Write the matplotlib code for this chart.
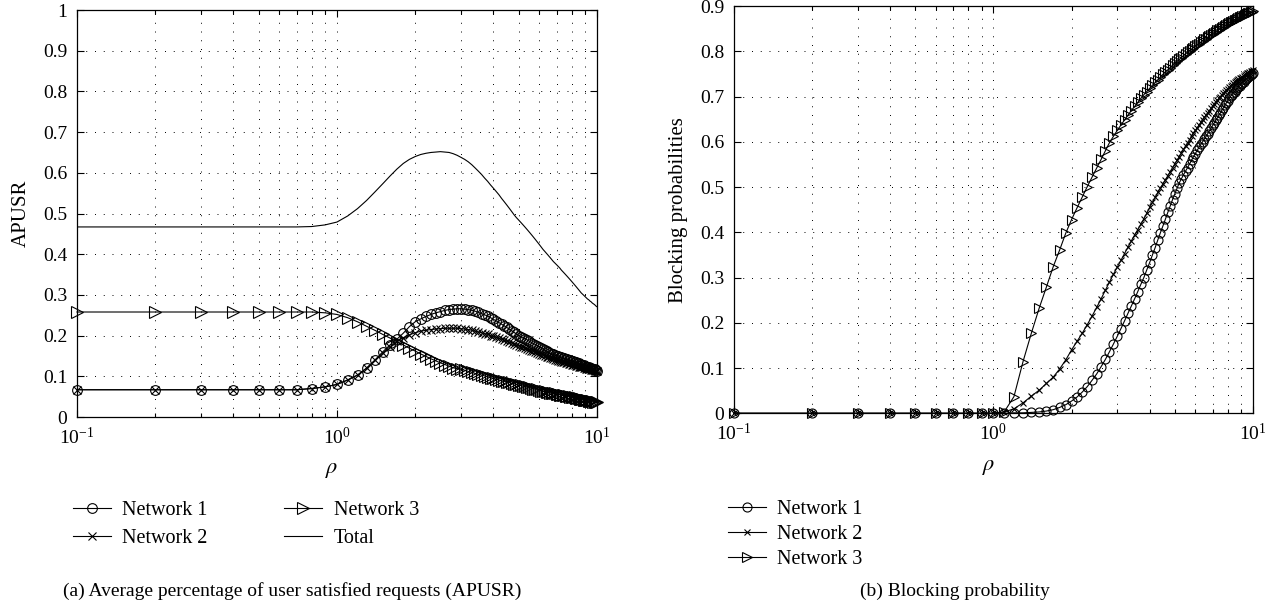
import matplotlib.pyplot as plt
from matplotlib.ticker import NullFormatter

plt.rcParams['font.family'] = ['Liberation Serif', 'DejaVu Serif']
plt.rcParams['mathtext.fontset'] = 'stix'

# load values rho = 0.1, 0.2, ..., 10
rho = [i / 10 for i in range(1, 101)]

# (a) APUSR
apusr_net1 = [0.067, 0.067, 0.067, 0.067, 0.067, 0.067, 0.067, 0.070, 0.074, 0.080,
              0.091, 0.103, 0.120, 0.140, 0.160, 0.177, 0.191, 0.206, 0.222, 0.234,
              0.241, 0.247, 0.252, 0.256, 0.259, 0.262, 0.264, 0.265, 0.266, 0.266,
              0.265, 0.264, 0.262, 0.260, 0.257, 0.254, 0.251, 0.248, 0.244, 0.240,
              0.236, 0.232, 0.228, 0.224, 0.220, 0.216, 0.212, 0.208, 0.204, 0.200,
              0.197, 0.194, 0.192, 0.189, 0.186, 0.183, 0.180, 0.178, 0.175, 0.172,
              0.170, 0.167, 0.164, 0.162, 0.159, 0.157, 0.155, 0.154, 0.152, 0.151,
              0.150, 0.148, 0.147, 0.146, 0.144, 0.143, 0.142, 0.140, 0.139, 0.138,
              0.137, 0.135, 0.134, 0.133, 0.132, 0.130, 0.129, 0.128, 0.127, 0.126,
              0.124, 0.123, 0.122, 0.121, 0.120, 0.119, 0.118, 0.117, 0.115, 0.114]

apusr_net2 = [0.067, 0.067, 0.067, 0.067, 0.067, 0.067, 0.067, 0.070, 0.074, 0.080,
              0.091, 0.103, 0.120, 0.139, 0.157, 0.173, 0.186, 0.195, 0.202, 0.207,
              0.211, 0.213, 0.215, 0.216, 0.217, 0.218, 0.218, 0.218, 0.218, 0.217,
              0.216, 0.215, 0.213, 0.211, 0.209, 0.207, 0.205, 0.203, 0.200, 0.198,
              0.196, 0.193, 0.191, 0.189, 0.186, 0.184, 0.182, 0.179, 0.177, 0.175,
              0.173, 0.171, 0.169, 0.167, 0.165, 0.163, 0.161, 0.159, 0.157, 0.155,
              0.153, 0.152, 0.150, 0.148, 0.147, 0.145, 0.144, 0.142, 0.141, 0.140,
              0.138, 0.137, 0.136, 0.135, 0.134, 0.133, 0.132, 0.131, 0.130, 0.129,
              0.128, 0.127, 0.126, 0.125, 0.124, 0.123, 0.122, 0.122, 0.121, 0.120,
              0.119, 0.118, 0.118, 0.117, 0.116, 0.115, 0.115, 0.114, 0.113, 0.112]

apusr_net3 = [0.258, 0.258, 0.258, 0.258, 0.258, 0.258, 0.258, 0.258, 0.256, 0.252,
              0.244, 0.234, 0.223, 0.213, 0.203, 0.194, 0.185, 0.177, 0.169, 0.162,
              0.155, 0.149, 0.143, 0.138, 0.133, 0.129, 0.125, 0.121, 0.119, 0.117,
              0.115, 0.112, 0.110, 0.107, 0.105, 0.103, 0.101, 0.099, 0.097, 0.095,
              0.093, 0.091, 0.089, 0.088, 0.086, 0.085, 0.083, 0.082, 0.080, 0.079,
              0.078, 0.076, 0.075, 0.074, 0.073, 0.071, 0.070, 0.069, 0.068, 0.066,
              0.065, 0.064, 0.063, 0.062, 0.061, 0.060, 0.059, 0.058, 0.058, 0.057,
              0.056, 0.055, 0.054, 0.054, 0.053, 0.052, 0.051, 0.051, 0.050, 0.049,
              0.048, 0.048, 0.047, 0.046, 0.046, 0.045, 0.044, 0.044, 0.043, 0.042,
              0.042, 0.041, 0.040, 0.040, 0.039, 0.039, 0.038, 0.037, 0.037, 0.036]

apusr_total = [0.467, 0.467, 0.467, 0.467, 0.467, 0.467, 0.467, 0.468, 0.472, 0.479,
               0.494, 0.512, 0.532, 0.553, 0.573, 0.592, 0.609, 0.623, 0.633, 0.640,
               0.645, 0.648, 0.650, 0.651, 0.652, 0.651, 0.650, 0.647, 0.643, 0.638,
               0.633, 0.627, 0.620, 0.612, 0.604, 0.596, 0.587, 0.579, 0.570, 0.562,
               0.554, 0.546, 0.537, 0.529, 0.521, 0.513, 0.505, 0.497, 0.490, 0.484,
               0.478, 0.472, 0.466, 0.460, 0.454, 0.448, 0.442, 0.436, 0.430, 0.424,
               0.418, 0.412, 0.407, 0.402, 0.397, 0.392, 0.387, 0.382, 0.378, 0.374,
               0.370, 0.366, 0.361, 0.357, 0.353, 0.349, 0.345, 0.341, 0.337, 0.333,
               0.329, 0.325, 0.321, 0.317, 0.313, 0.309, 0.305, 0.302, 0.299, 0.296,
               0.293, 0.290, 0.288, 0.285, 0.283, 0.280, 0.278, 0.276, 0.273, 0.271]

# (b) blocking probability
block_net1 = [0, 0, 0, 0, 0, 0, 0, 0, 0, 0,
              0.000, 0.001, 0.001, 0.002, 0.003, 0.005, 0.008, 0.013, 0.019, 0.027,
              0.036, 0.047, 0.059, 0.073, 0.087, 0.103, 0.119, 0.136, 0.153, 0.170,
              0.187, 0.204, 0.221, 0.237, 0.253, 0.269, 0.285, 0.300, 0.317, 0.333,
              0.350, 0.366, 0.383, 0.399, 0.414, 0.429, 0.444, 0.458, 0.472, 0.485,
              0.497, 0.509, 0.518, 0.527, 0.535, 0.543, 0.551, 0.559, 0.567, 0.574,
              0.581, 0.588, 0.594, 0.600, 0.606, 0.612, 0.618, 0.624, 0.630, 0.636,
              0.642, 0.648, 0.653, 0.659, 0.664, 0.670, 0.675, 0.681, 0.686, 0.691,
              0.696, 0.701, 0.704, 0.708, 0.711, 0.715, 0.718, 0.721, 0.724, 0.727,
              0.730, 0.733, 0.736, 0.738, 0.741, 0.743, 0.746, 0.748, 0.750, 0.752]

block_net2 = [0, 0, 0, 0, 0, 0, 0, 0, 0, 0,
              0.003, 0.010, 0.023, 0.038, 0.051, 0.066, 0.080, 0.098, 0.118, 0.140,
              0.159, 0.177, 0.196, 0.215, 0.234, 0.253, 0.272, 0.290, 0.307, 0.323,
              0.338, 0.353, 0.367, 0.381, 0.394, 0.406, 0.418, 0.430, 0.442, 0.455,
              0.466, 0.477, 0.488, 0.498, 0.507, 0.516, 0.525, 0.534, 0.543, 0.551,
              0.559, 0.567, 0.575, 0.583, 0.591, 0.598, 0.605, 0.612, 0.619, 0.625,
              0.631, 0.637, 0.643, 0.649, 0.654, 0.659, 0.664, 0.669, 0.674, 0.679,
              0.683, 0.688, 0.692, 0.696, 0.700, 0.704, 0.707, 0.711, 0.714, 0.717,
              0.720, 0.723, 0.726, 0.729, 0.731, 0.734, 0.736, 0.738, 0.740, 0.742,
              0.744, 0.746, 0.748, 0.749, 0.751, 0.753, 0.754, 0.756, 0.757, 0.758]

block_net3 = [0, 0, 0, 0, 0, 0, 0, 0, 0, 0,
              0.003, 0.037, 0.114, 0.177, 0.232, 0.279, 0.324, 0.361, 0.398, 0.428,
              0.454, 0.478, 0.501, 0.522, 0.542, 0.561, 0.580, 0.598, 0.612, 0.625,
              0.637, 0.648, 0.659, 0.669, 0.678, 0.687, 0.696, 0.704, 0.711, 0.718,
              0.725, 0.731, 0.737, 0.743, 0.749, 0.754, 0.759, 0.764, 0.769, 0.774,
              0.778, 0.782, 0.786, 0.790, 0.794, 0.798, 0.801, 0.805, 0.808, 0.811,
              0.814, 0.817, 0.820, 0.823, 0.826, 0.828, 0.831, 0.834, 0.836, 0.839,
              0.841, 0.843, 0.846, 0.848, 0.850, 0.852, 0.854, 0.856, 0.858, 0.860,
              0.862, 0.864, 0.865, 0.867, 0.869, 0.870, 0.872, 0.873, 0.875, 0.876,
              0.878, 0.879, 0.880, 0.882, 0.883, 0.884, 0.885, 0.886, 0.887, 0.888]

labels_a = ['Network 1', 'Network 2', 'Network 3', 'Total']
labels_b = ['Network 1', 'Network 2', 'Network 3']
yticks_a = [0, 0.1, 0.2, 0.3, 0.4, 0.5, 0.6, 0.7, 0.8, 0.9, 1]
yticks_b = [0, 0.1, 0.2, 0.3, 0.4, 0.5, 0.6, 0.7, 0.8, 0.9]

fig = plt.figure(figsize=(12.76, 6.07), dpi=100)
ax1 = fig.add_axes([0.0603, 0.3130, 0.4075, 0.6705])
ax2 = fig.add_axes([0.5752, 0.3191, 0.4067, 0.6710])

lw = 0.8
ax1.plot(rho, apusr_net1, 'k-', marker='o', ms=7, mfc='none', mew=lw, lw=lw, clip_on=False, label=labels_a[0])
ax1.plot(rho, apusr_net2, 'k-', marker='x', ms=5.5, mew=lw, lw=lw, clip_on=False, label=labels_a[1])
ax1.plot(rho, apusr_net3, 'k-', marker='>', ms=8, mfc='none', mew=lw, lw=lw, clip_on=False, label=labels_a[2])
ax1.plot(rho, apusr_total, 'k-', lw=lw, label=labels_a[3])

ax2.plot(rho, block_net1, 'k-', marker='o', ms=6.5, mfc='none', mew=lw, lw=lw, clip_on=False, label=labels_b[0])
ax2.plot(rho, block_net2, 'k-', marker='x', ms=4.5, mew=lw, lw=lw, clip_on=False, label=labels_b[1])
ax2.plot(rho, block_net3, 'k-', marker='>', ms=7.5, mfc='none', mew=lw, lw=lw, clip_on=False, label=labels_b[2])

for ax, yt, ylab in [(ax1, yticks_a, 'APUSR'), (ax2, yticks_b, 'Blocking probabilities')]:
    ax.set_xscale('log')
    ax.set_xlim(0.1, 10)
    ax.set_ylim(yt[0], yt[-1])
    ax.set_yticks(yt)
    ax.set_yticklabels([('%g' % v) for v in yt])
    ax.xaxis.set_minor_formatter(NullFormatter())
    ax.tick_params(which='both', direction='in', top=True, right=True, labelsize=14, width=0.8)
    ax.tick_params(which='major', length=5, pad=7)
    ax.tick_params(which='minor', length=3)
    ax.grid(True, which='both', axis='x', color='k', lw=0.7, linestyle=(0, (1, 8)))
    ax.grid(True, which='major', axis='y', color='k', lw=0.7, linestyle=(0, (1, 8)))
    for s in ax.spines.values():
        s.set_linewidth(0.9)
    ax.set_ylabel(ylab, fontsize=15)
    ax.yaxis.set_label_coords(-0.088, 0.5)
    ax.set_xlabel(r'$\rho$', fontsize=16)
    ax.xaxis.set_label_coords(0.49, -0.132)
    ax.xaxis.label.set_va('center')

ax1.legend(loc='upper left', bbox_to_anchor=(0.0572, 0.1746), bbox_transform=fig.transFigure,
           ncol=2, frameon=False, fontsize=14.5, numpoints=1, borderpad=0, borderaxespad=0,
           handlelength=1.9, handletextpad=0.55, labelspacing=0.46, columnspacing=3.8)
ax2.legend(loc='upper left', bbox_to_anchor=(0.5705, 0.1763), bbox_transform=fig.transFigure,
           frameon=False, fontsize=14.5, numpoints=1, borderpad=0, borderaxespad=0,
           handlelength=1.9, handletextpad=0.55, labelspacing=0.29)

fig.text(63 / 1276, 0.026, '(a) Average percentage of user satisfied requests (APUSR)', fontsize=14, va='center')
fig.text(860 / 1276, 0.026, '(b) Blocking probability', fontsize=14, va='center')

plt.savefig('out.png', dpi=100)
